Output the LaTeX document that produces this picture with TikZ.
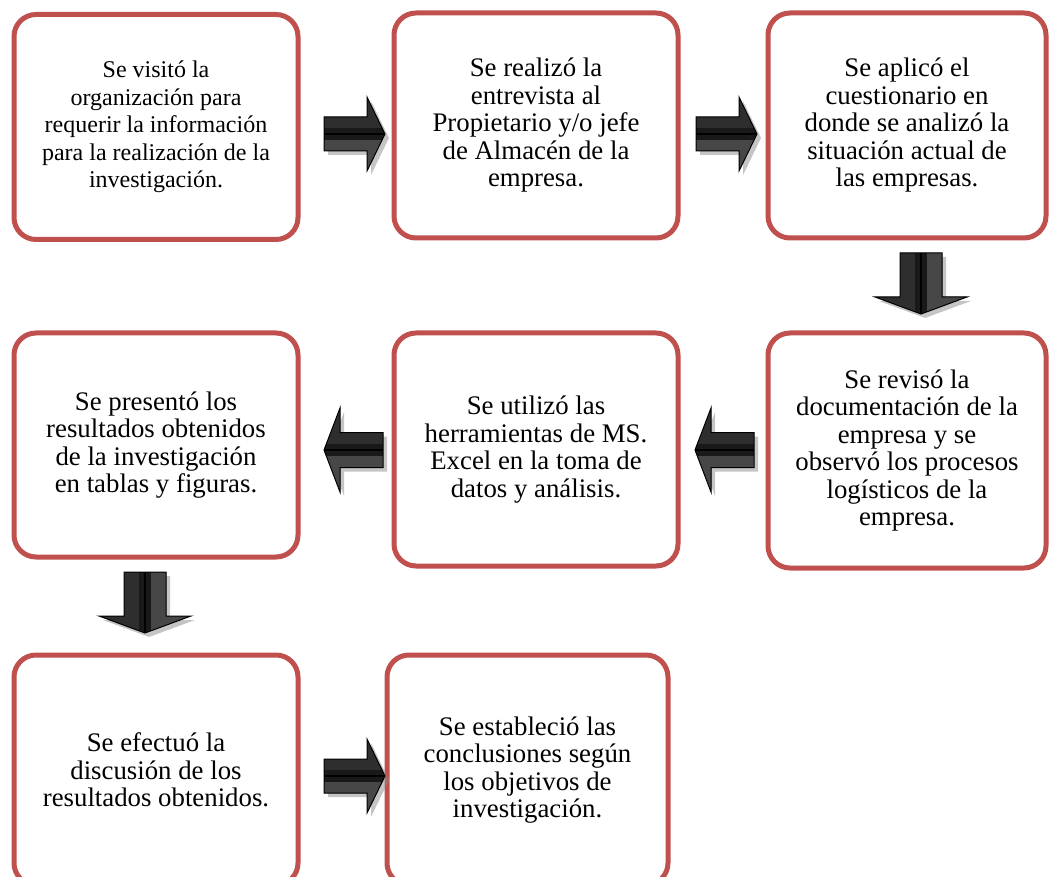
\documentclass[tikz,border=0pt]{standalone}
\usepackage{fontspec}
\setmainfont{Liberation Serif}
\usetikzlibrary{shadows}
\definecolor{boxred}{HTML}{C0504D}

\begin{document}
\begin{tikzpicture}[
        x=1pt, y=-1pt,
        stepbox/.style={draw=boxred, line width=5pt, rounded corners=22pt, fill=white,
            align=center, font=\fontsize{26.8}{27.5}\selectfont},
        hblock/.style={draw=black, line width=1pt, fill=black!82,
            path picture={
                \fill[black!72] (path picture bounding box.west) rectangle (path picture bounding box.south east);
                \fill[black!90] ([yshift=-6pt]path picture bounding box.west) rectangle ([yshift=6pt]path picture bounding box.east);
                \draw[black, line width=2pt] (path picture bounding box.west) -- (path picture bounding box.east);},
            drop shadow={shadow xshift=4pt, shadow yshift=-4pt, fill=black!45, opacity=0.5}},
        vblock/.style={draw=black, line width=1pt, fill=black!82,
            path picture={
                \fill[black!72] (path picture bounding box.north) rectangle (path picture bounding box.south east);
                \fill[black!90] ([xshift=-6pt]path picture bounding box.north) rectangle ([xshift=6pt]path picture bounding box.south);
                \draw[black, line width=2pt] (path picture bounding box.north) -- (path picture bounding box.south);},
            drop shadow={shadow xshift=4pt, shadow yshift=-4pt, fill=black!45, opacity=0.5}}
    ]
    \useasboundingbox (0,0) rectangle (1050,877);
    \clip (0,0) rectangle (1050,877);

    % Row 1
    \node[stepbox, minimum width=284pt, minimum height=225pt, font=\fontsize{24}{27.5}\selectfont] (visita) at (156,127)
        {Se visitó la\\organización para\\requerir la información\\para la realización de la\\investigación.};
    \node[stepbox, minimum width=284pt, minimum height=225pt] (entrevista) at (536,125.5)
        {Se realizó la\\entrevista al\\Propietario y/o jefe\\de Almacén de la\\empresa.};
    \node[stepbox, minimum width=278pt, minimum height=225pt] (cuestionario) at (907,125.5)
        {Se aplicó el\\cuestionario en\\donde se analizó la\\situación actual de\\las empresas.};

    % Row 2
    \node[stepbox, minimum width=278pt, minimum height=235pt] (revision) at (907,450.5)
        {Se revisó la\\documentación de la\\empresa y se\\observó los procesos\\logísticos de la\\empresa.};
    \node[stepbox, minimum width=284pt, minimum height=233pt] (excel) at (536,449.5)
        {Se utilizó las\\herramientas de MS.\\Excel en la toma de\\datos y análisis.};
    \node[stepbox, minimum width=284pt, minimum height=224pt] (resultados) at (156,445)
        {Se presentó los\\resultados obtenidos\\de la investigación\\en tablas y figuras.};

    % Row 3
    \node[stepbox, minimum width=284pt, minimum height=230pt] (discusion) at (156,770)
        {Se efectuó la\\discusión de los\\resultados obtenidos.};
    \node[stepbox, minimum width=281pt, minimum height=230pt] (conclusiones) at (527.5,770)
        {Se estableció las\\conclusiones según\\los objetivos de\\investigación.};

    % Arrow tips
    \coordinate (t1) at (385,134);
    \coordinate (t2) at (757,134);
    \coordinate (t3) at (921,314);
    \coordinate (t4) at (695,450);
    \coordinate (t5) at (324,450);
    \coordinate (t6) at (145,633);
    \coordinate (t7) at (385,776);

    % Block arrows
    \draw[hblock] (t1) -- ++(-18,-37) -- ++(0,20) -- ++(-43,0) -- ++(0,34) -- ++(43,0) -- ++(0,20) -- cycle;
    \draw[hblock] (t2) -- ++(-18,-37) -- ++(0,20) -- ++(-43,0) -- ++(0,34) -- ++(43,0) -- ++(0,20) -- cycle;
    \draw[vblock] (t3) -- ++(-46,-17) -- ++(25,0) -- ++(0,-44) -- ++(42,0) -- ++(0,44) -- ++(25,0) -- cycle;
    \draw[hblock] (t4) -- ++(16,-42) -- ++(0,24.5) -- ++(43,0) -- ++(0,35) -- ++(-43,0) -- ++(0,24.5) -- cycle;
    \draw[hblock] (t5) -- ++(16,-42) -- ++(0,24.5) -- ++(43,0) -- ++(0,35) -- ++(-43,0) -- ++(0,24.5) -- cycle;
    \draw[vblock] (t6) -- ++(-46,-17) -- ++(25,0) -- ++(0,-44) -- ++(42,0) -- ++(0,44) -- ++(25,0) -- cycle;
    \draw[hblock] (t7) -- ++(-18,-37) -- ++(0,20) -- ++(-43,0) -- ++(0,34) -- ++(43,0) -- ++(0,20) -- cycle;

\end{tikzpicture}
\end{document}
